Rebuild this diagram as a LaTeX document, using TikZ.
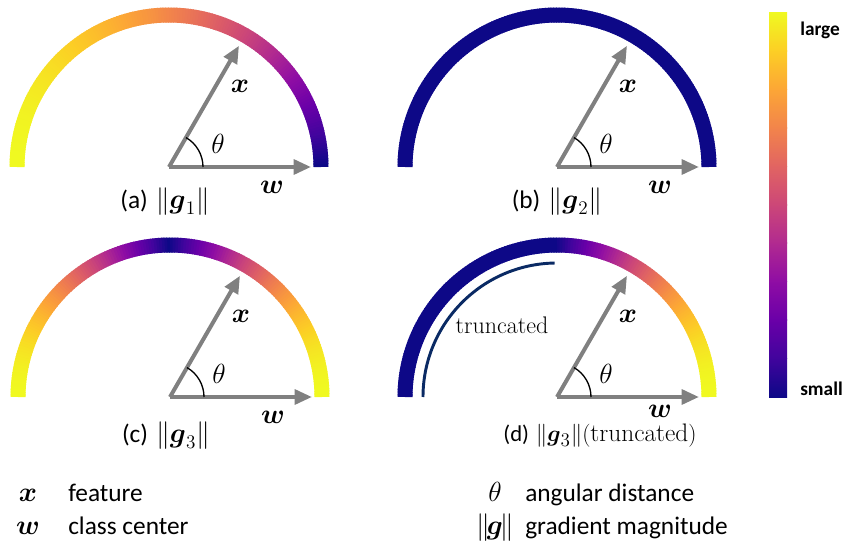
\documentclass[tikz,border=0pt]{standalone}
\usepackage{amsmath,amssymb}
\usepackage{fontspec}
\setsansfont{Carlito}
\usepackage{tikz}
\usetikzlibrary{arrows.meta,calc,positioning}
% plasma colour map, deciles
\definecolor{pl0}{HTML}{0D0887}
\definecolor{pl1}{HTML}{41049D}
\definecolor{pl2}{HTML}{6A00A8}
\definecolor{pl3}{HTML}{8F0DA4}
\definecolor{pl4}{HTML}{B12A90}
\definecolor{pl5}{HTML}{CC4778}
\definecolor{pl6}{HTML}{E16462}
\definecolor{pl7}{HTML}{F2844B}
\definecolor{pl8}{HTML}{FCA636}
\definecolor{pl9}{HTML}{FCCE25}
\definecolor{pl10}{HTML}{F0F921}
\definecolor{vecgray}{RGB}{128,128,128}
\definecolor{truncblue}{RGB}{10,42,100}

% coloured half ring, #1 = value in [0,1] as a function of \ang
\newcommand{\magarc}[1]{%
  \foreach \ang in {0,1,...,179}{%
    \pgfmathsetmacro\cv{10*(#1)}%
    \pgfmathtruncatemacro\ci{min(int(\cv),9)}%
    \pgfmathtruncatemacro\cj{\ci+1}%
    \pgfmathtruncatemacro\cf{round(100*(\cv-\ci))}%
    \pgfmathsetmacro\ce{min(\ang+1.4,180)}%
    \draw[arcband, color=pl\cj!\cf!pl\ci] (\ang:152) arc[start angle=\ang, end angle=\ce, radius=152];
  }}
\newcommand{\mathsz}{\fontsize{22}{26}\selectfont}

\begin{document}
\begin{tikzpicture}[x=0.75pt, y=0.75pt,
    arcband/.style={line width=11.25pt},
    vec/.style={draw=vecgray, line width=3pt, -{Triangle[length=13pt,width=11pt]}},
    anglemark/.style={draw=black, line width=1pt},
    mlabel/.style={anchor=base, inner sep=0pt, font=\mathsz},
    caption/.style={anchor=base, inner sep=0pt, font=\sffamily\fontsize{19}{23}\selectfont},
    legend/.style={anchor=base west, inner sep=0pt, font=\sffamily\fontsize{19}{23}\selectfont},
    barlabel/.style={anchor=west, inner sep=0pt, font=\sffamily\bfseries\fontsize{14.5}{17}\selectfont}]

\useasboundingbox (0,0) rectangle (847,544);

% ==================== TOP ROW ====================

% (a) g_1
\begin{scope}[shift={(169,377)}]
    \magarc{sin(\ang/2)}
    \coordinate (oa) at (0,0);
    \coordinate (wa) at (142,0);
    \coordinate (xa) at (60:140);
    \draw[vec] (oa) -- (wa);
    \draw[vec] (oa) -- (xa);
    \draw[anglemark] (34,0) arc[start angle=0, end angle=60, radius=34];
    \node[mlabel] (xla) at (71,74) {$\boldsymbol{x}$};
    \node[mlabel] (tha) at (49,14) {$\theta$};
    \node[mlabel] (wla) at (103,-26) {$\boldsymbol{w}$};
    \node[caption] (capa) at (-4,-41) {(a)\hspace{6pt}{\mathsz$\|\boldsymbol{g}_1\|$}};
\end{scope}

% (b) g_2
\begin{scope}[shift={(557,377)}]
    \magarc{0}
    \coordinate (ob) at (0,0);
    \coordinate (wb) at (142,0);
    \coordinate (xb) at (60:140);
    \draw[vec] (ob) -- (wb);
    \draw[vec] (ob) -- (xb);
    \draw[anglemark] (34,0) arc[start angle=0, end angle=60, radius=34];
    \node[mlabel] (xlb) at (71,74) {$\boldsymbol{x}$};
    \node[mlabel] (thb) at (49,14) {$\theta$};
    \node[mlabel] (wlb) at (103,-26) {$\boldsymbol{w}$};
    \node[caption] (capb) at (0,-41) {(b)\hspace{6pt}{\mathsz$\|\boldsymbol{g}_2\|$}};
\end{scope}

% ==================== BOTTOM ROW ====================

% (c) g_3
\begin{scope}[shift={(170,147)}]
    \magarc{abs(cos(\ang))}
    \coordinate (oc) at (0,0);
    \coordinate (wc) at (142,0);
    \coordinate (xc) at (60:140);
    \draw[vec] (oc) -- (wc);
    \draw[vec] (oc) -- (xc);
    \draw[anglemark] (34,0) arc[start angle=0, end angle=60, radius=34];
    \node[mlabel] (xlc) at (71,75) {$\boldsymbol{x}$};
    \node[mlabel] (thc) at (49,14) {$\theta$};
    \node[mlabel] (wlc) at (103,-26) {$\boldsymbol{w}$};
    \node[caption] (capc) at (-4,-45) {(c)\hspace{6pt}{\mathsz$\|\boldsymbol{g}_3\|$}};
\end{scope}

% (d) g_3 truncated
\begin{scope}[shift={(557,147)}]
    \magarc{max(cos(\ang),0)}
    \draw[truncblue, line width=2.2pt] (180:134) arc[start angle=180, end angle=91, radius=134];
    \node[anchor=base, inner sep=0pt, font=\rmfamily\fontsize{18}{21}\selectfont] (trl) at (-55,64) {truncated};
    \coordinate (od) at (0,0);
    \coordinate (wd) at (142,0);
    \coordinate (xd) at (60:140);
    \draw[vec] (od) -- (wd);
    \draw[vec] (od) -- (xd);
    \draw[anglemark] (34,0) arc[start angle=0, end angle=60, radius=34];
    \node[mlabel] (xld) at (71,75) {$\boldsymbol{x}$};
    \node[mlabel] (thd) at (49,14) {$\theta$};
    \node[mlabel] (wld) at (103,-20) {$\boldsymbol{w}$};
    \node[caption, font=\sffamily\fontsize{17}{20}\selectfont] (capd) at (43,-44) {(d)\hspace{5pt}{\fontsize{19}{23}\selectfont$\|\boldsymbol{g}_3\|\mathrm{(truncated)}$}};
\end{scope}

% ==================== COLOUR BAR ====================
\foreach \k [evaluate=\k as \kk using int(\k+1)] in {0,...,9}
    \shade[bottom color=pl\k, top color=pl\kk] (769,{147+38.4*\k}) rectangle (787,{147.6+38.4*(\k+1)});
\node[barlabel] (lg) at (800,514) {large};
\node[barlabel] (sm) at (800,155) {small};

% ==================== LEGEND ====================
\node[mlabel] (lx) at (28,43) {$\boldsymbol{x}$};
\node[legend] (lxt) at (68,43) {feature};
\node[mlabel] (lw) at (28,10) {$\boldsymbol{w}$};
\node[legend] (lwt) at (68,10) {class center};
\node[mlabel] (lth) at (495,43) {$\theta$};
\node[legend] (ltht) at (525,43) {angular distance};
\node[mlabel, font=\fontsize{20}{24}\selectfont] (lg2) at (495,10) {$\|\mkern-2mu\boldsymbol{g}\mkern-2mu\|$};
\node[legend] (lgt) at (525,10) {gradient magnitude};

\end{tikzpicture}
\end{document}
